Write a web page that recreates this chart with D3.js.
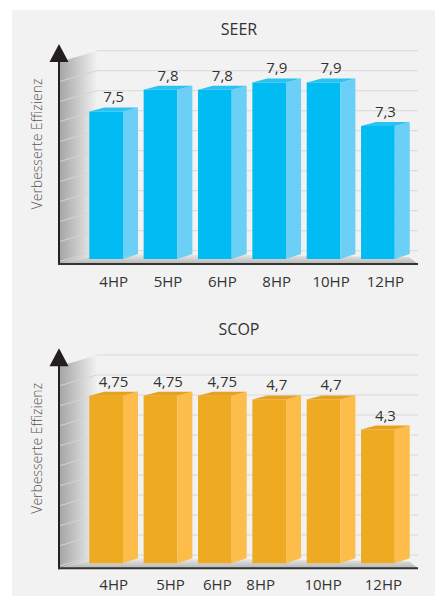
<!DOCTYPE html>
<html><head><meta charset="utf-8">
<script src="https://cdn.jsdelivr.net/npm/d3@7"></script>
<style>html,body{margin:0;padding:0;background:#fff;} svg{display:block;font-family:"Open Sans",sans-serif;}</style>
</head><body><svg id="c" width="435" height="596"></svg>
<script>
// ---- data ----
const categories = ["4HP", "5HP", "6HP", "8HP", "10HP", "12HP"];
const seerValues = [7.5, 7.8, 7.8, 7.9, 7.9, 7.3];
const scopValues = [4.75, 4.75, 4.75, 4.7, 4.7, 4.3];
const chartTitles = ["SEER", "SCOP"];
const yAxisTitle = "Verbesserte Effizienz";

// ---- layout ----
const charts = [
  { title: chartTitles[0], values: seerValues, offsetY: 0, domain: [5.47, 8], pxPerUnit: 72.67,
    titleY: 35, catY: 287, nudge: [0, 0, 0, 0, 0, 0],
    front: "#00bcf2", side: "#6bcff6", top: "#2ac2f2" },
  { title: chartTitles[1], values: scopValues, offsetY: 304.3, domain: [2.524, 5], pxPerUnit: 75.3,
    titleY: 30.7, catY: 285.7, nudge: [0, 2.5, -5, -16, -8, -2],
    front: "#eeab21", side: "#fcbd4a", top: "#e8a11f" }
];
const base = 259, axisX = 59, axisY = 264, backX = 97, rightX = 418, depthX = 15;

const svg = d3.select("#c");
const defs = svg.append("defs");
const wg = defs.append("linearGradient").attr("id", "wall").attr("x1", 0).attr("x2", 1).attr("y1", 0).attr("y2", 0);
wg.append("stop").attr("offset", 0).attr("stop-color", "#a4a4a4");
wg.append("stop").attr("offset", 1).attr("stop-color", "#f1f1f1");
const fg = defs.append("linearGradient").attr("id", "floor").attr("x1", 0).attr("x2", 0).attr("y1", 0).attr("y2", 1);
fg.append("stop").attr("offset", 0).attr("stop-color", "#f1f1f1");
fg.append("stop").attr("offset", 1).attr("stop-color", "#b4b4b4");

svg.append("rect").attr("x", 12).attr("y", 10).attr("width", 423).attr("height", 586).attr("fill", "#f2f2f2");

const x = d3.scaleBand().domain(categories).range([89.3, 394.75]).paddingInner(0.38).paddingOuter(0);
const bw = x.bandwidth();
const fmt = v => String(v).replace(".", ",");

charts.forEach(c => {
  const g = svg.append("g").attr("transform", `translate(0,${c.offsetY})`);
  const y = d3.scaleLinear().domain(c.domain).range([base, base - c.pxPerUnit * (c.domain[1] - c.domain[0])]);

  // left wall
  g.append("polygon").attr("points", [[axisX, 62], [backX, 51], [backX, 253], [axisX, axisY]].join(" "))
    .attr("fill", "url(#wall)");
  // floor
  g.append("polygon").attr("points", [[axisX, axisY], [rightX, axisY], [409, 257], [backX, 253]].join(" "))
    .attr("fill", "url(#floor)");
  // grid lines
  const grid = d3.range(11).map(i => 50.7 + 20 * i);
  g.selectAll(".gb").data(grid).join("line")
    .attr("x1", backX).attr("x2", rightX).attr("y1", d => d).attr("y2", d => d)
    .attr("stroke", "#d8d8d8").attr("stroke-width", 1);
  g.selectAll(".gw").data(grid.slice(1)).join("line")
    .attr("x1", axisX).attr("x2", backX).attr("y1", d => d + 11).attr("y2", d => d)
    .attr("stroke", "#d4d4d4").attr("stroke-width", 1);

  // bars
  const bars = g.selectAll(".bar").data(c.values).join("g");
  bars.append("rect")
    .attr("x", (d, i) => x(categories[i])).attr("y", d => y(d))
    .attr("width", bw).attr("height", d => base - y(d)).attr("fill", c.front);
  bars.append("polygon").attr("fill", c.side).attr("points", (d, i) => {
    const xr = x(categories[i]) + bw, yt = y(d);
    return [[xr, yt], [xr + depthX, yt - 4], [xr + depthX, base - 5], [xr, base]].join(" ");
  });
  bars.append("polygon").attr("fill", c.top).attr("points", (d, i) => {
    const xl = x(categories[i]), yt = y(d);
    return [[xl, yt], [xl + bw, yt], [xl + bw + depthX, yt - 4], [xl + depthX, yt - 4]].join(" ");
  });
  bars.append("text")
    .attr("x", (d, i) => x(categories[i]) + (bw + depthX) / 2).attr("y", d => y(d) - 9)
    .attr("text-anchor", "middle").attr("font-size", 15).attr("fill", "#333")
    .text(d => fmt(d));

  // axes
  g.append("line").attr("x1", axisX).attr("x2", axisX).attr("y1", 60).attr("y2", axisY + 1)
    .attr("stroke", "#222").attr("stroke-width", 2);
  g.append("line").attr("x1", axisX - 1).attr("x2", rightX).attr("y1", axisY).attr("y2", axisY)
    .attr("stroke", "#333").attr("stroke-width", 2);
  g.append("polygon").attr("points", [[axisX, 44], [49.5, 62], [68.5, 62]].join(" ")).attr("fill", "#231f20");

  // category labels
  g.selectAll(".cat").data(categories).join("text")
    .attr("x", (d, i) => x(d) + (bw + depthX) / 2 + c.nudge[i]).attr("y", c.catY)
    .attr("text-anchor", "middle").attr("font-size", 15).attr("fill", "#333").text(d => d);

  // title
  g.append("text").attr("x", 239).attr("y", c.titleY).attr("text-anchor", "middle")
    .attr("font-size", 16).attr("fill", "#333").text(c.title);

  // y axis title
  g.append("text").attr("transform", `translate(42,144) rotate(-90)`)
    .attr("text-anchor", "middle").attr("font-size", 14).attr("font-weight", 300).attr("fill", "#555")
    .text(yAxisTitle);
});
</script></body></html>
